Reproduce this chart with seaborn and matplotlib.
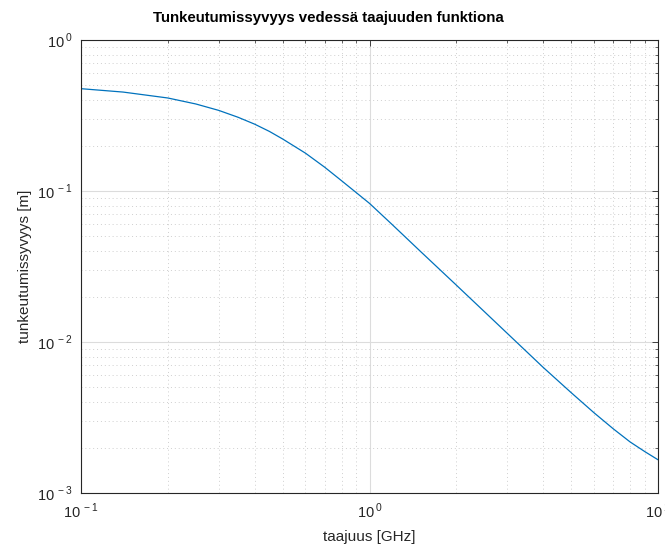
import numpy as np
import pandas as pd
import matplotlib
matplotlib.use("Agg")
import matplotlib.pyplot as plt
import seaborn as sns
from matplotlib.ticker import LogLocator, FuncFormatter, NullFormatter

# ---------------------------------------------
# Data
# ---------------------------------------------
taajuus = [0.1, 0.14, 0.2, 0.25, 0.3, 0.35, 0.4, 0.45, 0.5, 0.6, 0.7, 0.8, 0.9,
           1.0, 1.2, 1.5, 2.0, 2.5, 3.0, 4.0, 5.0, 6.0, 7.0, 8.0, 9.0, 10.0]
syvyys = [0.476, 0.452, 0.413, 0.377, 0.342, 0.308, 0.277, 0.248, 0.221, 0.178,
          0.1435, 0.117, 0.0975, 0.0828, 0.0598, 0.0399, 0.0238, 0.0159, 0.01143,
          0.00679, 0.00462, 0.0034, 0.00266, 0.00218, 0.00188, 0.00166]

df = pd.DataFrame({"taajuus": taajuus, "syvyys": syvyys})

# ---------------------------------------------
# Style
# ---------------------------------------------
sns.set_style("white")
plt.rcParams["font.family"] = ["Liberation Sans", "DejaVu Sans"]
plt.rcParams["mathtext.fontset"] = "custom"
plt.rcParams["mathtext.rm"] = "Liberation Sans"

fig = plt.figure(figsize=(6.65, 5.51), dpi=100)
ax = fig.add_axes([81 / 665, 58 / 551, 577 / 665, 453 / 551])

sns.lineplot(data=df, x="taajuus", y="syvyys", ax=ax, color="#0072BD",
             linewidth=0.9, sort=False)

ax.set_xscale("log")
ax.set_yscale("log")
ax.set_xlim(0.1, 10)
ax.set_ylim(1e-3, 1)


def pow_label(v, pos):
    e = int(round(np.log10(v)))
    return r"$10^{\,%d}$" % e


ax.xaxis.set_major_locator(LogLocator(base=10, numticks=10))
ax.yaxis.set_major_locator(LogLocator(base=10, numticks=10))
ax.xaxis.set_minor_locator(LogLocator(base=10, subs=np.arange(2, 10), numticks=20))
ax.yaxis.set_minor_locator(LogLocator(base=10, subs=np.arange(2, 10), numticks=20))
ax.xaxis.set_major_formatter(FuncFormatter(pow_label))
ax.yaxis.set_major_formatter(FuncFormatter(pow_label))
ax.xaxis.set_minor_formatter(NullFormatter())
ax.yaxis.set_minor_formatter(NullFormatter())

ax.grid(True, which="major", color="#dcdcdc", linewidth=0.8, linestyle="-")
ax.grid(True, which="minor", color="#cfcfcf", linewidth=0.7, linestyle=(0, (1, 3)))

ax.tick_params(which="both", direction="in", top=True, right=True,
               color="#262626", labelsize=10.5, labelcolor="#262626")
ax.tick_params(which="major", length=4, width=0.6, pad=6)
ax.tick_params(which="minor", length=2.5, width=0.5)
for s in ax.spines.values():
    s.set_color("#262626")
    s.set_linewidth(0.8)

ax.set_xlabel("taajuus [GHz]", fontsize=11, color="#262626", labelpad=7)
ax.set_ylabel("tunkeutumissyvyys [m]", fontsize=11, color="#262626", labelpad=4)
fig.text(328 / 665, 1 - 18 / 551, "Tunkeutumissyvyys vedessä taajuuden funktiona",
         ha="center", va="center", fontsize=10.8, fontweight="bold", color="black")

plt.savefig("out.png", dpi=100)
